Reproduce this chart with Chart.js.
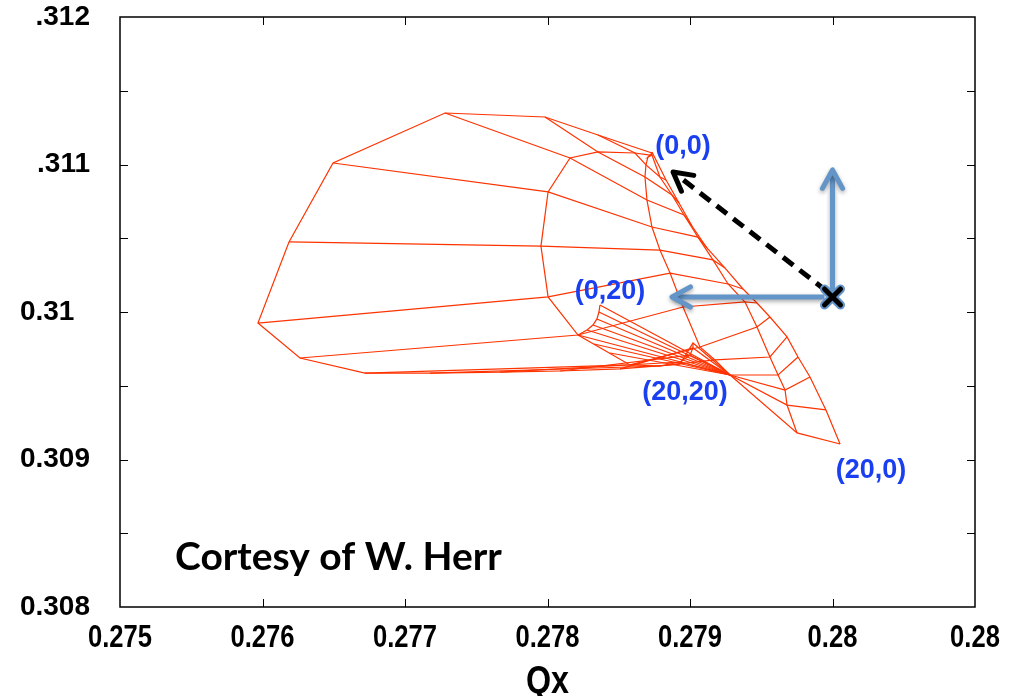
<!DOCTYPE html>
<html>
<head>
<meta charset="utf-8">
<script src="https://cdn.jsdelivr.net/npm/chart.js@4.4.0/dist/chart.umd.min.js"></script>
<style>
  html, body { margin: 0; padding: 0; background: #fff; }
  canvas { display: block; }
</style>
</head>
<body>
<canvas id="footprint" width="1009" height="696"></canvas>
<script>
// axis ticks
var xTickValues = [0.275, 0.276, 0.277, 0.278, 0.279, 0.280, 0.281];
var xTickLabels = ['0.275', '0.276', '0.277', '0.278', '0.279', '0.28', '0.28'];
var yTickValues = [0.308, 0.3085, 0.309, 0.3095, 0.310, 0.3105, 0.311, 0.3115, 0.312];
var yTickLabels = ['0.308', '', '0.309', '', '0.31\u2007', '', '.311', '', '.312'];
var xTitle = 'Qx';

// footprint mesh, one row per amplitude line, one column per crossing line
var meshQx = [
  [0.278733, 0.278719, 0.278705, 0.278733, 0.278733],
  [0.278354, 0.278614, 0.278691, 0.278789, 0.278832],
  [0.277982, 0.278354, 0.278684, 0.278874, 0.278923],
  [0.277281, 0.278158, 0.278698, 0.278958, 0.279014],
  [0.276495, 0.278004, 0.278733, 0.279056, 0.279119],
  [0.276186, 0.277954, 0.278789, 0.279161, 0.279246],
  [0.275968, 0.278004, 0.278860, 0.279267, 0.279372],
  [0.276263, 0.278214, 0.278951, 0.279386, 0.279470],
  [0.276719, 0.278579, 0.279070, 0.279470, 0.279561],
  [0.277175, 0.278789, 0.279175, 0.279561, 0.279681],
  [0.277667, 0.278930, 0.279281, 0.279618, 0.279758],
  [0.278088, 0.279000, 0.279281, 0.279667, 0.279842],
  [0.278509, 0.279021, 0.279281, 0.279681, 0.279954],
  [0.278930, 0.279021, 0.279281, 0.279751, 0.280053]
];
var meshQy = [
  [0.311078, 0.311064, 0.311051, 0.311064, 0.311085],
  [0.311200, 0.311078, 0.310997, 0.310915, 0.310895],
  [0.311322, 0.311085, 0.310915, 0.310793, 0.310739],
  [0.311349, 0.311044, 0.310759, 0.310658, 0.310583],
  [0.311010, 0.310814, 0.310576, 0.310508, 0.310434],
  [0.310475, 0.310447, 0.310420, 0.310353, 0.310298],
  [0.309925, 0.310102, 0.310264, 0.310190, 0.310156],
  [0.309688, 0.309844, 0.310034, 0.310068, 0.310061],
  [0.309586, 0.309641, 0.309763, 0.309898, 0.309966],
  [0.309586, 0.309634, 0.309675, 0.309695, 0.309831],
  [0.309593, 0.309661, 0.309573, 0.309573, 0.309695],
  [0.309600, 0.309708, 0.309573, 0.309471, 0.309559],
  [0.309614, 0.309756, 0.309573, 0.309369, 0.309336],
  [0.309647, 0.309790, 0.309573, 0.309180, 0.309105]
];
// curl near (0,20)
var curlQx = [0.278214, 0.278277, 0.278319, 0.278347, 0.278361, 0.278368];
var curlQy = [0.309844, 0.309878, 0.309912, 0.309953, 0.310000, 0.310047];
// lines that converge near (20,20)
var fanQx = [0.278368, 0.278361, 0.278347, 0.278319, 0.278277, 0.278214, 0.278326, 0.278439];
var fanQy = [0.310047, 0.310000, 0.309953, 0.309912, 0.309878, 0.309844, 0.309783, 0.309722];
var hubQx = 0.279281;
var hubQy = 0.309573;

// annotations
var cornerLabels = ['(0,0)', '(0,20)', '(20,20)', '(20,0)'];
var cornerQx = [0.278951, 0.278439, 0.278965, 0.280270];
var cornerQy = [0.311125, 0.310136, 0.309451, 0.308922];
var nominalQx = 0.280;
var nominalQy = 0.310102;
var arrowTipQx = [0.280, 0.278874];
var arrowTipQy = [0.310963, 0.310102];
var dashedTipQx = 0.278881;
var dashedTipQy = 0.310949;
var creditText = 'Cortesy of W. Herr';
var creditQx = 0.275386;
var creditQy = 0.308339;

var red = '#ff3300';
var blue = '#6495c8';
var labelBlue = '#1a3ff0';

var datasets = [];
function addLine(xs, ys) {
  datasets.push({
    data: xs.map(function (v, i) { return { x: v, y: ys[i] }; }),
    borderColor: red,
    borderWidth: 1.2,
    pointRadius: 0,
    showLine: true,
    fill: false
  });
}
meshQx.forEach(function (row, m) { addLine(row, meshQy[m]); });
for (var k = 0; k < meshQx[0].length; k++) {
  addLine(meshQx.map(function (r) { return r[k]; }), meshQy.map(function (r) { return r[k]; }));
}
addLine(curlQx, curlQy);
fanQx.forEach(function (qx, i) { addLine([qx, hubQx], [fanQy[i], hubQy]); });

var framePlugin = {
  id: 'frame',
  afterDatasetsDraw: function (chart) {
    var ctx = chart.ctx, a = chart.chartArea, x = chart.scales.x, y = chart.scales.y;
    ctx.save();
    ctx.strokeStyle = '#000';
    ctx.lineWidth = 1.5;
    ctx.strokeRect(a.left, a.top, a.right - a.left, a.bottom - a.top);
    ctx.lineWidth = 1;
    ctx.beginPath();
    xTickValues.slice(1, -1).forEach(function (v) {
      var px = Math.round(x.getPixelForValue(v)) + 0.5;
      ctx.moveTo(px, a.bottom); ctx.lineTo(px, a.bottom - 8);
      ctx.moveTo(px, a.top); ctx.lineTo(px, a.top + 8);
    });
    yTickValues.slice(1, -1).forEach(function (v) {
      var py = Math.round(y.getPixelForValue(v)) + 0.5;
      ctx.moveTo(a.left, py); ctx.lineTo(a.left + 8, py);
      ctx.moveTo(a.right, py); ctx.lineTo(a.right - 8, py);
    });
    ctx.stroke();
    // condensed bold x labels and axis title
    ctx.fillStyle = '#000';
    ctx.textAlign = 'center';
    ctx.textBaseline = 'middle';
    ctx.font = 'bold 32px "Liberation Sans", Arial, sans-serif';
    xTickValues.forEach(function (v, i) {
      ctx.save();
      ctx.translate(x.getPixelForValue(v), a.bottom + 31);
      ctx.scale(0.8, 1);
      ctx.fillText(xTickLabels[i], 0, 0);
      ctx.restore();
    });
    ctx.font = 'bold 38px "Liberation Sans", Arial, sans-serif';
    ctx.translate((a.left + a.right) / 2, a.bottom + 76);
    ctx.scale(0.85, 1);
    ctx.fillText(xTitle, 0, 0);
    ctx.restore();
  }
};

function drawArrow(ctx, x0, y0, x1, y1, color, width, dash) {
  var ang = Math.atan2(y1 - y0, x1 - x0);
  ctx.strokeStyle = color;
  ctx.lineWidth = width;
  ctx.lineCap = 'butt';
  ctx.setLineDash(dash || []);
  ctx.beginPath();
  ctx.moveTo(x0, y0);
  ctx.lineTo(x1 - Math.cos(ang) * 3, y1 - Math.sin(ang) * 3);
  ctx.stroke();
  ctx.setLineDash([]);
  var head = 21, spread = 0.5;
  ctx.lineCap = 'round';
  ctx.lineJoin = 'round';
  ctx.beginPath();
  ctx.moveTo(x1 - head * Math.cos(ang - spread), y1 - head * Math.sin(ang - spread));
  ctx.lineTo(x1, y1);
  ctx.lineTo(x1 - head * Math.cos(ang + spread), y1 - head * Math.sin(ang + spread));
  ctx.stroke();
}

var notesPlugin = {
  id: 'notes',
  afterDraw: function (chart) {
    var ctx = chart.ctx, x = chart.scales.x, y = chart.scales.y;
    var nx = x.getPixelForValue(nominalQx), ny = y.getPixelForValue(nominalQy);
    ctx.save();
    ctx.shadowColor = 'rgba(0,0,0,0.35)';
    ctx.shadowBlur = 4;
    ctx.shadowOffsetY = 2;
    drawArrow(ctx, nx, ny - 6, x.getPixelForValue(arrowTipQx[0]), y.getPixelForValue(arrowTipQy[0]), blue, 5);
    drawArrow(ctx, nx - 8, ny, x.getPixelForValue(arrowTipQx[1]), y.getPixelForValue(arrowTipQy[1]), blue, 5);
    ctx.shadowColor = 'transparent';
    drawArrow(ctx, nx - 6, ny - 6, x.getPixelForValue(dashedTipQx), y.getPixelForValue(dashedTipQy), '#000', 5, [13, 8]);
    // nominal working point
    ctx.lineCap = 'round';
    var s = 8;
    [[blue, 9], ['#000', 5]].forEach(function (st) {
      ctx.strokeStyle = st[0];
      ctx.lineWidth = st[1];
      ctx.beginPath();
      ctx.moveTo(nx - s, ny - s); ctx.lineTo(nx + s, ny + s);
      ctx.moveTo(nx - s, ny + s); ctx.lineTo(nx + s, ny - s);
      ctx.stroke();
    });
    ctx.fillStyle = labelBlue;
    ctx.font = 'bold 27px "Liberation Sans", Arial, sans-serif';
    ctx.textAlign = 'center';
    ctx.textBaseline = 'middle';
    cornerLabels.forEach(function (t, i) {
      ctx.fillText(t, x.getPixelForValue(cornerQx[i]), y.getPixelForValue(cornerQy[i]));
    });
    ctx.fillStyle = '#000';
    ctx.font = 'bold 39px Lato, "Open Sans", sans-serif';
    ctx.textAlign = 'left';
    ctx.fillText(creditText, x.getPixelForValue(creditQx), y.getPixelForValue(creditQy));
    ctx.restore();
  }
};

function noPadding(s) {
  s.paddingTop = 0; s.paddingBottom = 0; s.paddingLeft = 0; s.paddingRight = 0;
}

new Chart(document.getElementById('footprint').getContext('2d'), {
  type: 'scatter',
  data: { datasets: datasets },
  options: {
    responsive: false,
    animation: false,
    layout: { padding: { top: 17, right: 34, left: 0, bottom: 0 } },
    plugins: { legend: { display: false }, tooltip: { enabled: false } },
    scales: {
      x: {
        type: 'linear',
        min: 0.275,
        max: 0.281,
        afterBuildTicks: function (s) { s.ticks = xTickValues.map(function (v) { return { value: v }; }); },
        afterFit: function (s) { s.height = 89; noPadding(s); },
        grid: { display: false, drawTicks: false },
        border: { display: false },
        ticks: { display: false }
      },
      y: {
        type: 'linear',
        min: 0.308,
        max: 0.312,
        afterBuildTicks: function (s) { s.ticks = yTickValues.map(function (v) { return { value: v }; }); },
        afterFit: function (s) { s.width = 120; noPadding(s); },
        grid: { display: false, drawTicks: false },
        border: { display: false },
        ticks: {
          autoSkip: false,
          padding: 30,
          color: '#000',
          font: { family: '"Liberation Sans", Arial, sans-serif', size: 28, weight: 'bold', lineHeight: 1 },
          callback: function (v, i) { return yTickLabels[i]; }
        }
      }
    }
  },
  plugins: [framePlugin, notesPlugin]
});
</script>
</body>
</html>
